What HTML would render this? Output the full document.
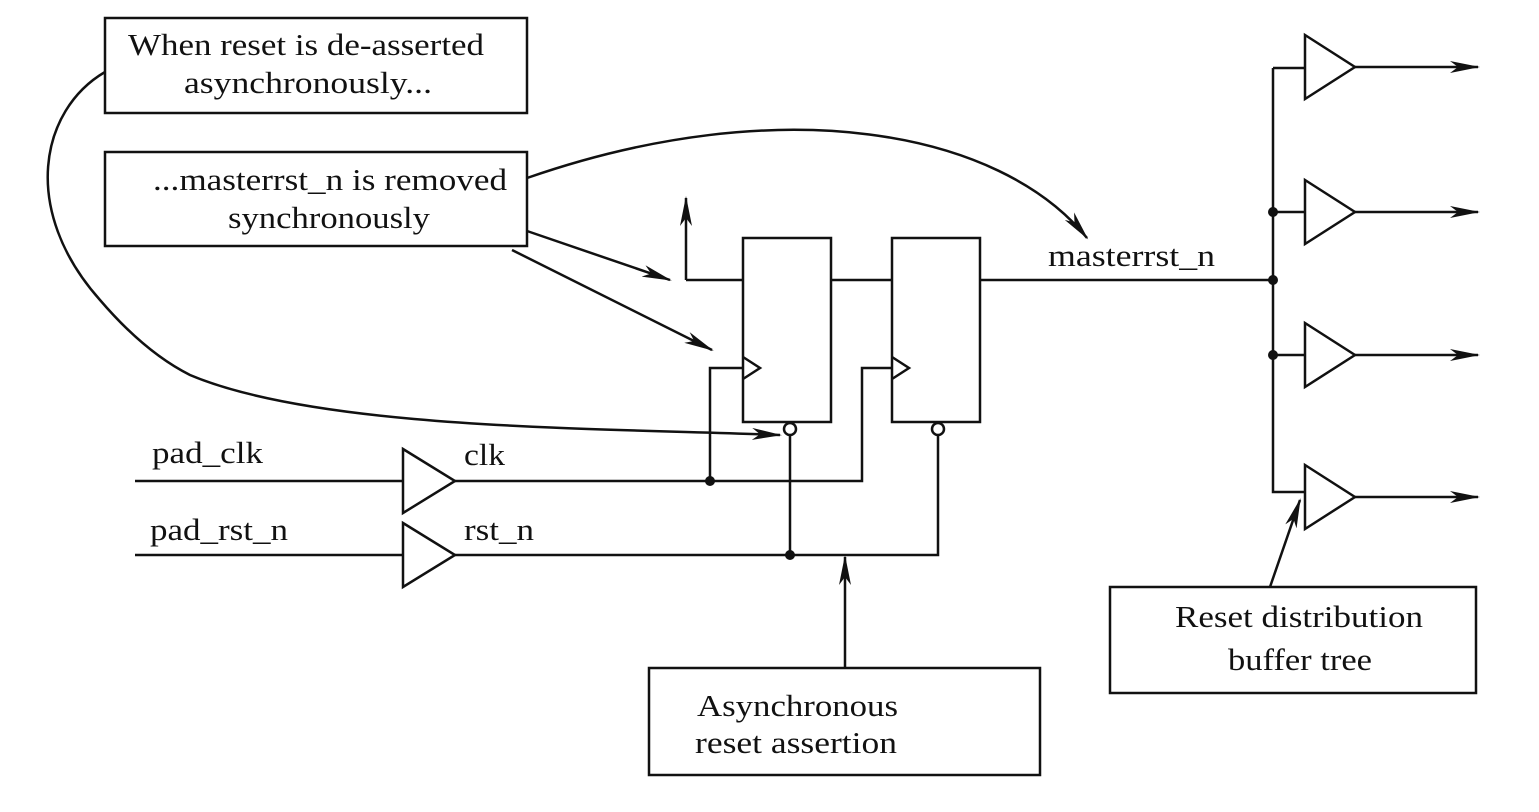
<!DOCTYPE html>
<html><head><style>body{margin:0;background:#fff}svg{display:block}text{font-family:"Liberation Serif",serif;font-size:31px;fill:#111}</style></head><body>
<svg width="1539" height="812" viewBox="0 0 1539 812">
<defs><marker id="a" markerWidth="30" markerHeight="12" refX="28" refY="6" orient="auto" markerUnits="userSpaceOnUse"><path d="M0,0 L30,6 L0,12 L8,6 Z" fill="#111"/></marker></defs>
<g stroke="#111" stroke-width="2.5" fill="none">
<rect x="105" y="18" width="422" height="95"/>
<rect x="105" y="152" width="422" height="94"/>
<rect x="649" y="668" width="391" height="107"/>
<rect x="1110" y="587" width="366" height="106"/>
<rect x="743" y="238" width="88" height="184"/>
<rect x="892" y="238" width="88" height="184"/>
<path d="M743,357 L760,368 L743,379 M892,357 L909,368 L892,379"/>
<circle cx="790" cy="429" r="6"/><circle cx="938" cy="429" r="6"/>
<path d="M686,280 L743,280 M831,280 L892,280 M980,280 L1273,280"/>
<path d="M686,280 L686,198" marker-end="url(#a)"/>
<path d="M135,481 L403,481 M455,481 L862,481 L862,368 L892,368 M710,481 L710,368 L743,368"/>
<path d="M135,555 L403,555 M455,555 L938,555 L938,435 M790,435 L790,555"/>
<path d="M403,449 L455,481 L403,513 Z M403,523 L455,555 L403,587 Z"/>
<path d="M845,668 L845,557" marker-end="url(#a)"/>
<path d="M1273,68 L1273,492 L1305,492 M1273,68 L1305,68 M1273,212 L1305,212 M1273,355 L1305,355"/>
<path d="M1305,35 L1355,67 L1305,99 Z M1305,180 L1355,212 L1305,244 Z M1305,323 L1355,355 L1305,387 Z M1305,465 L1355,497 L1305,529 Z"/>
<path d="M1355,67 L1478,67" marker-end="url(#a)"/>
<path d="M1355,212 L1478,212" marker-end="url(#a)"/>
<path d="M1355,355 L1478,355" marker-end="url(#a)"/>
<path d="M1355,497 L1478,497" marker-end="url(#a)"/>
<path d="M1270,587 L1300,500" marker-end="url(#a)"/>
<path d="M105,72 C40,110 20,210 100,300 C130,335 160,360 190,375 C320,430 600,428 780,435" marker-end="url(#a)"/>
<path d="M527,178 C780,90 1000,130 1087,238" marker-end="url(#a)"/>
<path d="M527,231 L670,280" marker-end="url(#a)"/>
<path d="M512,250 L712,350" marker-end="url(#a)"/>
</g>
<g fill="#111"><circle cx="710" cy="481" r="5"/><circle cx="790" cy="555" r="5"/><circle cx="1273" cy="212" r="5"/><circle cx="1273" cy="280" r="5"/><circle cx="1273" cy="355" r="5"/></g>
<g lengthAdjust="spacingAndGlyphs">
<text x="128" y="55" textLength="356" lengthAdjust="spacingAndGlyphs">When reset is de-asserted</text>
<text x="184" y="93" textLength="248" lengthAdjust="spacingAndGlyphs">asynchronously...</text>
<text x="153" y="190" textLength="354" lengthAdjust="spacingAndGlyphs">...masterrst_n is removed</text>
<text x="228" y="228" textLength="202" lengthAdjust="spacingAndGlyphs">synchronously</text>
<text x="697" y="716" textLength="201" lengthAdjust="spacingAndGlyphs">Asynchronous</text>
<text x="695" y="753" textLength="202" lengthAdjust="spacingAndGlyphs">reset assertion</text>
<text x="1175" y="627" textLength="248" lengthAdjust="spacingAndGlyphs">Reset distribution</text>
<text x="1228" y="670" textLength="144" lengthAdjust="spacingAndGlyphs">buffer tree</text>
<text x="1048" y="266" textLength="167" lengthAdjust="spacingAndGlyphs">masterrst_n</text>
<text x="152" y="463" textLength="111" lengthAdjust="spacingAndGlyphs">pad_clk</text>
<text x="464" y="465" textLength="41" lengthAdjust="spacingAndGlyphs">clk</text>
<text x="150" y="540" textLength="138" lengthAdjust="spacingAndGlyphs">pad_rst_n</text>
<text x="464" y="540" textLength="70" lengthAdjust="spacingAndGlyphs">rst_n</text>
</g>
</svg></body></html>
